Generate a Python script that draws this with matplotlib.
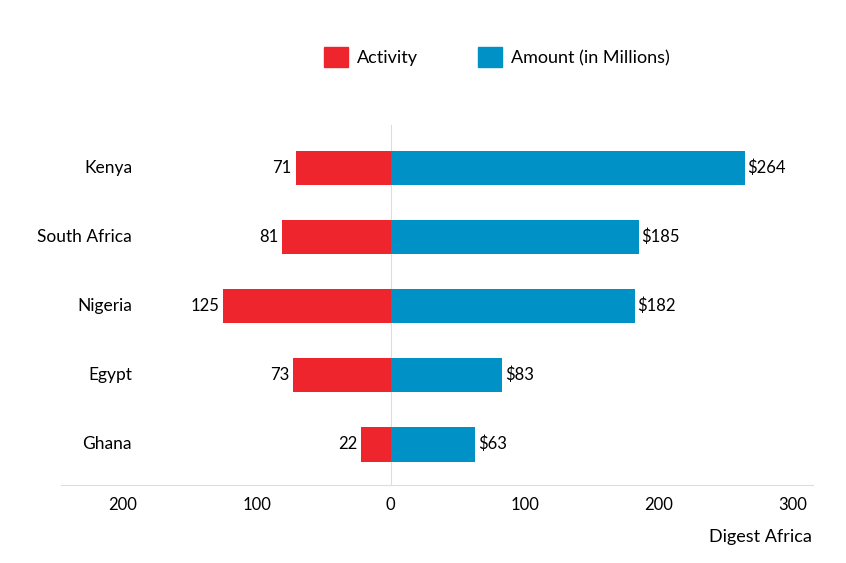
import matplotlib.pyplot as plt
from matplotlib.patches import Patch
from matplotlib.transforms import blended_transform_factory

plt.rcParams['font.family'] = ['Lato', 'DejaVu Sans']

# Données
countries = ['Ghana', 'Egypt', 'Nigeria', 'South Africa', 'Kenya']
activity = [22, 73, 125, 81, 71]
amount = [63, 83, 182, 185, 264]
tick_values = [-200, -100, 0, 100, 200, 300]
tick_labels = ['200', '100', '0', '100', '200', '300']

red = '#EE252D'
blue = '#0092C7'

fig = plt.figure(figsize=(8.46, 5.63), dpi=100)
ax = fig.add_axes([61 / 846, 1 - 485 / 563, 752 / 846, 360 / 563])

y = range(len(countries))
ax.barh(y, [-a for a in activity], height=0.5, color=red)
ax.barh(y, amount, height=0.5, color=blue)

for i in y:
    ax.text(-activity[i] - 3, i, str(activity[i]), ha='right', va='center', fontsize=12)
    ax.text(amount[i] + 2, i, '$' + str(amount[i]), ha='left', va='center', fontsize=12)

# Noms des pays
trans = blended_transform_factory(fig.transFigure, ax.transData)
for i, c in enumerate(countries):
    fig.text(132 / 846, i, c, transform=trans, ha='right', va='center', fontsize=12.5)

ax.axvline(0, color='#dddddd', linewidth=0.8, zorder=0)
ax.set_xlim(-246, 315)
ax.set_ylim(-0.59, 4.62)
ax.set_xticks(tick_values)
ax.set_xticklabels(tick_labels, fontsize=12)
ax.tick_params(axis='x', length=0, pad=9)
ax.set_yticks([])
for s in ['top', 'right', 'left']:
    ax.spines[s].set_visible(False)
ax.spines['bottom'].set_color('#dddddd')

handles = [Patch(color=red, label='Activity'), Patch(color=blue, label='Amount (in Millions)')]
fig.legend(handles=handles, loc='center', bbox_to_anchor=(497 / 846, 1 - 57 / 563), ncol=2,
           frameon=False, fontsize=13, handlelength=1.35, handleheight=1.35,
           handletextpad=0.5, columnspacing=3.3)

fig.text(812 / 846, 1 - 537 / 563, 'Digest Africa', ha='right', va='center', fontsize=13)

plt.savefig('out.png', dpi=100)
